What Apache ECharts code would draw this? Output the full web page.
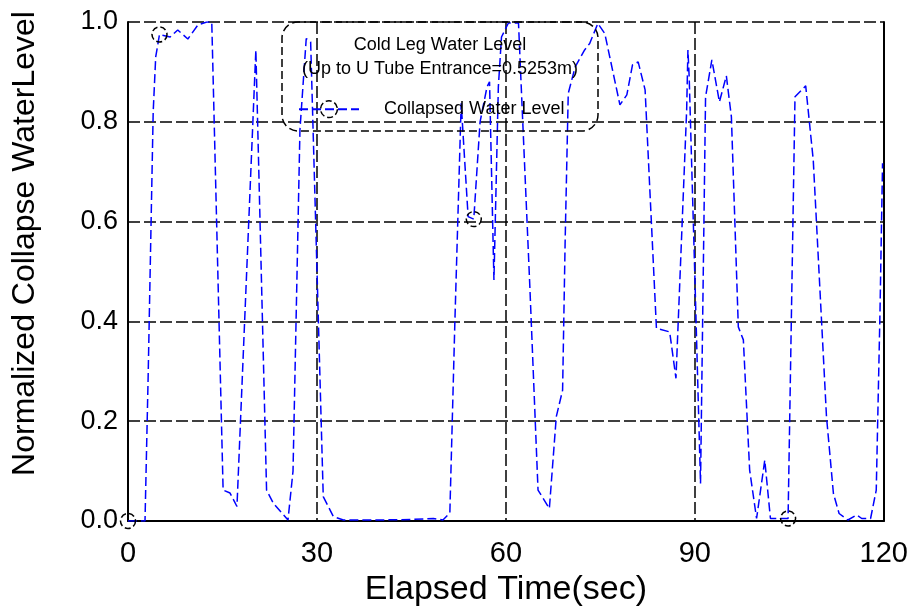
<!DOCTYPE html>
<html>
<head>
<meta charset="utf-8">
<script src="https://cdn.jsdelivr.net/npm/echarts@6/dist/echarts.min.js"></script>
<style>
html,body{margin:0;padding:0;background:#fff;}
#c{width:911px;height:615px;}
</style>
</head>
<body>
<div id="c"></div>
<script>
// ---- data ----
var times = [0,2.7,3.2,4.0,4.4,5.0,6.7,7.9,9.5,11.1,12.5,13.3,15.1,16.2,17.3,20.3,22.0,23.1,25.4,26.2,27.3,28.3,29.0,31.0,32.6,34.2,40,45,48.5,50.0,51.1,51.9,52.9,54.0,54.9,55.9,57.0,57.4,58.1,58.8,59.3,60.4,62.0,63.8,65.1,66.9,68.0,69.0,69.4,69.9,71.0,72.5,73.3,74.6,75.7,78.1,79.2,80.1,81.0,82.1,83.9,86.0,87.0,88.7,88.9,89.1,90.0,90.9,91.7,92.7,93.9,95.0,95.8,96.9,97.7,98.7,99.8,101.1,102.0,103.5,104.8,105.9,107.6,108.8,110.9,112.0,112.9,114.3,115.7,116.5,117.9,118.8,119.4,119.8];
var levels = [0,0,0.29,0.82,0.93,0.975,0.97,0.984,0.966,0.994,1.0,1.0,0.062,0.056,0.029,0.944,0.062,0.035,0.002,0.10,0.784,0.967,0.96,0.049,0.009,0.002,0.002,0.003,0.005,0.002,0.016,0.40,0.837,0.61,0.605,0.80,0.87,0.88,0.483,0.87,0.97,0.998,0.998,0.47,0.062,0.025,0.209,0.262,0.557,0.857,0.91,0.944,0.957,0.997,0.977,0.834,0.854,0.914,0.92,0.864,0.386,0.379,0.286,0.824,0.944,0.89,0.49,0.075,0.85,0.924,0.84,0.892,0.81,0.389,0.363,0.102,0.005,0.122,0.005,0.005,0.005,0.85,0.872,0.723,0.209,0.055,0.015,0.002,0.012,0.005,0.005,0.062,0.423,0.717];
var markerTimes = [0, 5.0, 54.9, 104.8];
var xTicks = [0, 30, 60, 90, 120];
var yTicks = [0.0, 0.2, 0.4, 0.6, 0.8, 1.0];
var seriesName = 'Collapsed Water Level';
var titleLines = ['Cold Leg Water Level', '(Up to U Tube Entrance=0.5253m)'];

var data = times.map(function (t, i) { return [t, levels[i]]; });

var FONT = '"Liberation Sans", Arial, sans-serif';
var chart = echarts.init(document.getElementById('c'), null, {renderer: 'canvas'});

chart.setOption({
  animation: false,
  backgroundColor: '#fff',
  grid: {left: 128, top: 22, right: 27, bottom: 94, containLabel: false},
  graphic: [
    {type: 'rect', x: 282, y: 22, z: 5, silent: true,
     shape: {x: 0, y: 0, width: 316, height: 109, r: 16},
     style: {fill: 'transparent', stroke: '#000', lineWidth: 1.5, lineDash: [8, 4]}},
    {type: 'text', x: 440, y: 33, z: 6, silent: true,
     style: {text: titleLines.join('\n'), fill: '#000', font: '18px ' + FONT,
             align: 'center', verticalAlign: 'top', lineHeight: 24}}
  ],
  legend: {
    show: true, left: 298, top: 100, padding: 0, itemWidth: 60, itemHeight: 21, itemGap: 0,
    textStyle: {fontSize: 18, color: '#000', fontFamily: FONT},
    itemStyle: {color: 'transparent', borderColor: '#000', borderWidth: 1.5, borderType: 'dashed'},
    formatter: function (n) { return '    ' + n; },
    data: [seriesName]
  },
  xAxis: [{
    type: 'value', min: 0, max: 120, interval: 30,
    name: 'Elapsed Time(sec)', nameLocation: 'middle', nameGap: 40,
    nameTextStyle: {fontSize: 34, color: '#000', fontFamily: FONT},
    axisLine: {show: true, onZero: false, lineStyle: {color: '#000', width: 2}},
    axisTick: {show: false},
    axisLabel: {fontSize: 29, color: '#000', margin: 18, fontFamily: FONT,
      formatter: function (v) { return xTicks.indexOf(v) >= 0 ? String(v) : ''; }},
    splitLine: {show: true, lineStyle: {color: '#000', width: 1.5, type: [12, 4]}}
  }],
  yAxis: [{
    type: 'value', min: 0, max: 1, interval: 0.2,
    name: 'Normalized Collapse WaterLevel', nameLocation: 'middle', nameGap: 87,
    nameTextStyle: {fontSize: 32, color: '#000', fontFamily: FONT, padding: [0, 0, 0, 56]},
    axisLine: {show: true, onZero: false, lineStyle: {color: '#000', width: 2}},
    axisTick: {show: false},
    axisLabel: {fontSize: 27, color: '#000', margin: 10, fontFamily: FONT,
      formatter: function (v) { return v.toFixed(1); }},
    splitLine: {show: true, lineStyle: {color: '#000', width: 1.5, type: [12, 4]}}
  }, {
    type: 'value', min: 0, max: 1, interval: 0.2, position: 'right',
    axisLine: {show: true, onZero: false, lineStyle: {color: '#000', width: 2}},
    axisTick: {show: false}, axisLabel: {show: false}, splitLine: {show: false}
  }],
  series: [{
    name: seriesName, type: 'line', data: data, yAxisIndex: 0,
    symbol: 'circle', showSymbol: true, showAllSymbol: true,
    symbolSize: function (v) { return markerTimes.indexOf(v[0]) >= 0 ? 15 : 0; },
    lineStyle: {color: '#0000ff', width: 1.5, type: [9, 4]},
    itemStyle: {color: 'transparent', borderColor: '#000', borderWidth: 1.5, borderType: 'dashed'},
    emphasis: {disabled: true},
    clip: true, z: 3
  }]
});
</script>
</body>
</html>
